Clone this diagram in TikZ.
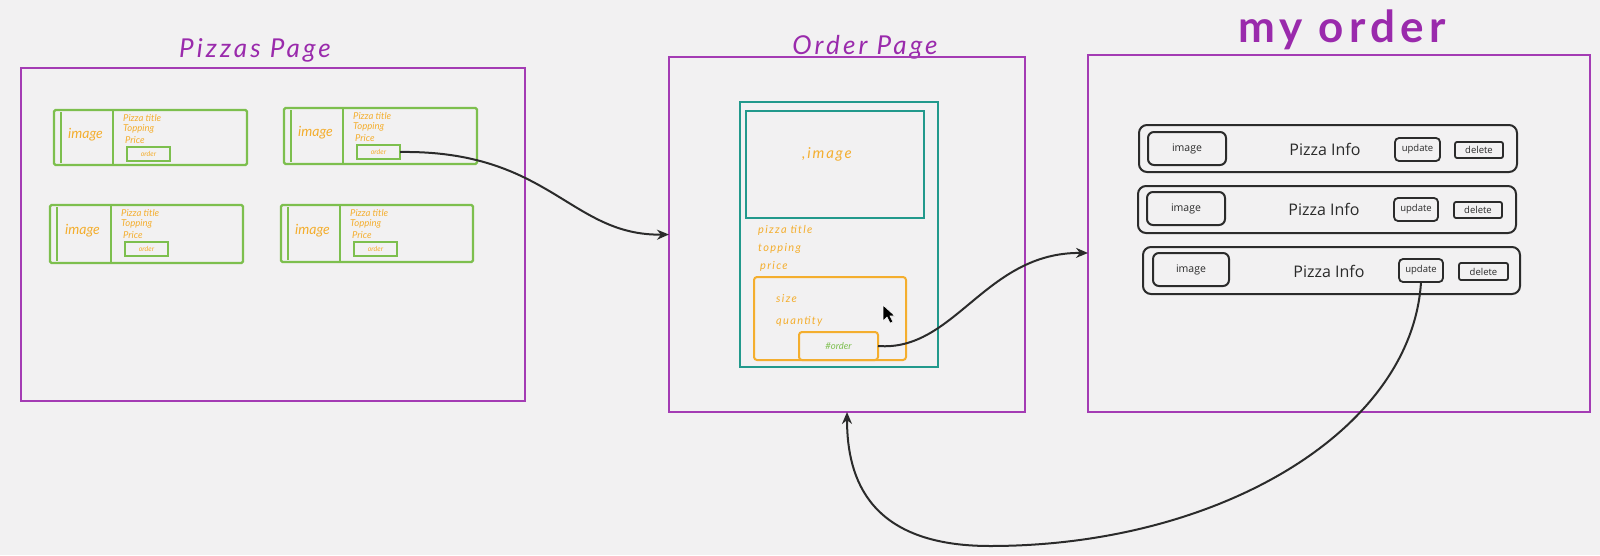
\documentclass[tikz,border=0pt]{standalone}
\usepackage{fontspec}
\setmainfont{Open Sans}
\newfontfamily\hand{Lato}
\newfontfamily\handw{Lato}[LetterSpace=12]
\usetikzlibrary{arrows.meta}
\definecolor{bg}{HTML}{F2F1F2}
\definecolor{pur}{HTML}{A43CB4}
\definecolor{tpur}{HTML}{9A2AAC}
\definecolor{grn}{HTML}{7DBF4E}
\definecolor{org}{HTML}{F4AE2E}
\definecolor{tealc}{HTML}{22998C}
\definecolor{ink}{HTML}{2B2B2B}
\newcommand\rbox[7]{\node[#1, minimum width={((#5)-(#3))*1pt}, minimum height={((#6)-(#4))*1pt}] (#2) at (#3,#4) {#7};}
\tikzset{
  base/.style={inner sep=0pt, outer sep=0pt, anchor=north west},
  page/.style={base, draw=pur, line width=2pt},
  card/.style={base, draw=grn, line width=2.4pt, rounded corners=1.5pt},
  cbtn/.style={base, draw=grn, line width=1.8pt, font=\hand\fontsize{7}{8}\selectfont\itshape, text=org},
  tealbox/.style={base, draw=tealc, line width=2.4pt},
  obox/.style={base, draw=org, line width=2pt, rounded corners=3pt},
  row/.style={base, draw=ink, line width=2pt, rounded corners=8pt},
  imgb/.style={base, draw=ink, line width=2pt, rounded corners=6pt, font=\fontsize{10.5}{12}\selectfont, text=ink},
  updb/.style={base, draw=ink, line width=1.8pt, rounded corners=4pt, font=\fontsize{9.5}{11}\selectfont, text=ink},
  delb/.style={base, draw=ink, line width=1.8pt, rounded corners=2pt, font=\fontsize{9.5}{11}\selectfont, text=ink},
  info/.style={font=\fontsize{16}{18}\selectfont, text=ink, inner sep=0pt},
  hw/.style={font=\hand\itshape\fontsize{9.5}{10}\selectfont, text=org, inner sep=0pt, anchor=west},
  hwo/.style={font=\handw\itshape\fontsize{11}{12}\selectfont, text=org, inner sep=0pt, anchor=west},
  hwbig/.style={font=\hand\itshape\fontsize{14}{15}\selectfont, text=org, inner sep=0pt},
  title/.style={font=\handw\itshape\fontsize{26}{28}\selectfont, text=tpur, inner sep=0pt},
  conn/.style={draw=ink, line width=2pt, -{Stealth[length=12pt,width=10pt]}},
}
\begin{document}
\begin{tikzpicture}[x=1pt,y=-1pt]
\fill[bg] (0,0) rectangle (1600,555);
\useasboundingbox (0,0) rectangle (1600,555);

% titles
\node[title] (tpp) at (255,50) {Pizzas Page};
\node[title] (top) at (865,47) {Order Page};
\node[title, font=\handw\bfseries\fontsize{44}{46}\selectfont] (tmo) at (1342,30) {my order};

% pages
\rbox{page}{pp}{21}{68}{525}{401}{}
\rbox{page}{op}{669}{57}{1025}{412}{}
\rbox{page}{mo}{1088}{55}{1590}{412}{}

% pizza cards
\foreach \xa/\ya/\xb/\yb/\dv/\n in {54/110/247/165/113/1, 284/108/477/164/343/2, 50/205/243/263/111/3, 281/205/473/262/340/4}{
  \rbox{card}{c\n}{\xa}{\ya}{\xb}{\yb}{}
  \draw[grn, line width=2.2pt] (\xa+7,\ya+2) -- (\xa+7,\yb-2);
  \draw[grn, line width=2.2pt] (\dv,\ya) -- (\dv,\yb);
  \node[hwbig] (ci\n) at ({(\xa+\dv)/2+2},{(\ya+\yb)/2-3}) {image};
  \node[hw] (ct\n) at (\dv+10,\ya+8) {Pizza title};
  \node[hw] (cp\n) at (\dv+10,\ya+19) {Topping};
  \node[hw] (cr\n) at (\dv+12,\ya+30) {Price};
  \rbox{cbtn}{b\n}{\dv+14}{\ya+37}{\dv+57}{\ya+51}{order}
}

% order page content
\rbox{tealbox}{oc}{740}{102}{938}{367}{}
\rbox{tealbox}{oimg}{746}{111}{924}{218}{}
\node[hwbig, font=\handw\itshape\fontsize{15}{16}\selectfont] (oimgt) at (827,154) {,image};
\node[hwo] (ot1) at (758,230) {pizza title};
\node[hwo] (ot2) at (758,248) {topping};
\node[hwo] (ot3) at (760,266) {price};
\rbox{obox}{ob}{754}{277}{906}{360}{}
\node[hwo] (os1) at (776,299) {size};
\node[hwo] (os2) at (776,321) {quantity};
\rbox{obox}{obtn}{799}{332}{878}{360}{}
\node[font=\hand\itshape\fontsize{9.5}{10}\selectfont, text=grn, inner sep=0pt] (obtnt) at (obtn.center) {\#order};
\fill[black, draw=white, line width=0.6pt] (883,305) -- (883,321) -- (887,317) -- (890,323) -- (893,322) -- (890,316) -- (895,316) -- cycle;

% my order rows
\rbox{row}{r1}{1139}{125}{1517}{172}{}
\rbox{imgb}{i1}{1148}{132}{1226}{165}{image}
\node[info] (n1) at (1325,149) {Pizza Info};
\rbox{updb}{u1}{1395}{138}{1440}{161}{update}
\rbox{delb}{d1}{1455}{142}{1503}{158}{delete}

\rbox{row}{r2}{1138}{186}{1516}{233}{}
\rbox{imgb}{i2}{1147}{192}{1225}{225}{image}
\node[info] (n2) at (1324,209) {Pizza Info};
\rbox{updb}{u2}{1394}{198}{1438}{221}{update}
\rbox{delb}{d2}{1454}{202}{1502}{218}{delete}

\rbox{row}{r3}{1143}{247}{1520}{294}{}
\rbox{imgb}{i3}{1153}{253}{1229}{286}{image}
\node[info] (n3) at (1329,271) {Pizza Info};
\rbox{updb}{u3}{1399}{259}{1443}{282}{update}
\rbox{delb}{d3}{1459}{263}{1508}{280}{delete}

% connectors
\draw[conn] (b2.east) .. controls (550,150) and (570,236) .. (op.west);
\coordinate (moin) at (1088,253);
\draw[conn] (obtn.east) .. controls (955,352) and (985,252) .. (moin);
\coordinate (lowp) at (990,546);
\draw[conn] (u3.south) .. controls (1412,430) and (1220,546) .. (lowp) .. controls (870,546) and (847,480) .. (op.south);
\end{tikzpicture}
\end{document}
